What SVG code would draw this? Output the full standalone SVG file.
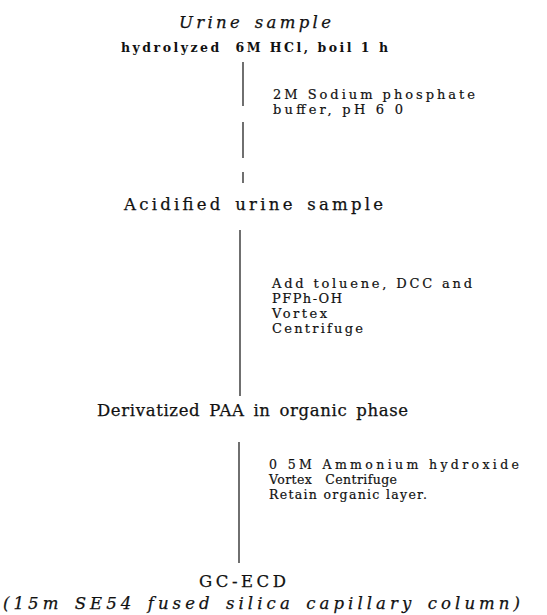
<svg xmlns="http://www.w3.org/2000/svg" width="547" height="615" viewBox="0 0 547 615">
<style>
text{fill:#111;font-family:"DejaVu Serif","Liberation Serif",serif}
.big{font-size:16.5px;word-spacing:3px;stroke:#111;stroke-width:0.25}
.sub{font-size:12.5px;font-weight:bold}
.note{font-size:13px;stroke:#111;stroke-width:0.2}
.low{font-size:12.5px;stroke:#111;stroke-width:0.2}
.it{font-style:italic}
.conn{stroke:#222;stroke-width:1.3;fill:none}
</style>
<rect width="547" height="615" fill="#fff"/>
<g id="node-urine">
<text class="big it" x="179" y="28" textLength="152" lengthAdjust="spacing">Urine sample</text>
<text class="sub" x="121" y="52" textLength="267" lengthAdjust="spacing" xml:space="preserve">hydrolyzed  6M HCl, boil 1 h</text>
</g>
<g id="node-acidified">
<text class="big" x="124" y="210" textLength="259" lengthAdjust="spacing">Acidified urine sample</text>
</g>
<g id="node-derivatized">
<text class="big" x="97" y="416" textLength="311" lengthAdjust="spacing">Derivatized PAA in organic phase</text>
</g>
<g id="node-gcecd">
<text class="big" x="199" y="587" textLength="87" lengthAdjust="spacing">GC-ECD</text>
<text class="big it" x="3" y="609" textLength="517" lengthAdjust="spacing">(15m SE54 fused silica capillary column)</text>
</g>
<g id="connectors">
<line class="conn" x1="243" y1="62" x2="243" y2="106"/>
<line class="conn" x1="243" y1="122" x2="243" y2="158"/>
<line class="conn" x1="243" y1="172" x2="243" y2="183"/>
<line class="conn" x1="240" y1="230" x2="240" y2="396"/>
<line class="conn" x1="239" y1="442" x2="239" y2="563"/>
</g>
<g id="labels">
<text class="note" x="273" y="99" textLength="202" lengthAdjust="spacing">2M Sodium phosphate</text>
<text class="note" x="273" y="114" textLength="130" lengthAdjust="spacing">buffer, pH 6 0</text>
<text class="note" x="272" y="288" textLength="200" lengthAdjust="spacing">Add toluene, DCC and</text>
<text class="note" x="272" y="303" textLength="70" lengthAdjust="spacing">PFPh-OH</text>
<text class="note" x="272" y="318" textLength="55" lengthAdjust="spacing">Vortex</text>
<text class="note" x="272" y="333" textLength="91" lengthAdjust="spacing">Centrifuge</text>
<text class="low" x="269" y="469" textLength="250" lengthAdjust="spacing">0 5M Ammonium hydroxide</text>
<text class="low" x="269" y="484" textLength="128" lengthAdjust="spacing" xml:space="preserve">Vortex   Centrifuge</text>
<text class="low" x="269" y="499" textLength="158" lengthAdjust="spacing">Retain organic layer.</text>
</g>
</svg>
